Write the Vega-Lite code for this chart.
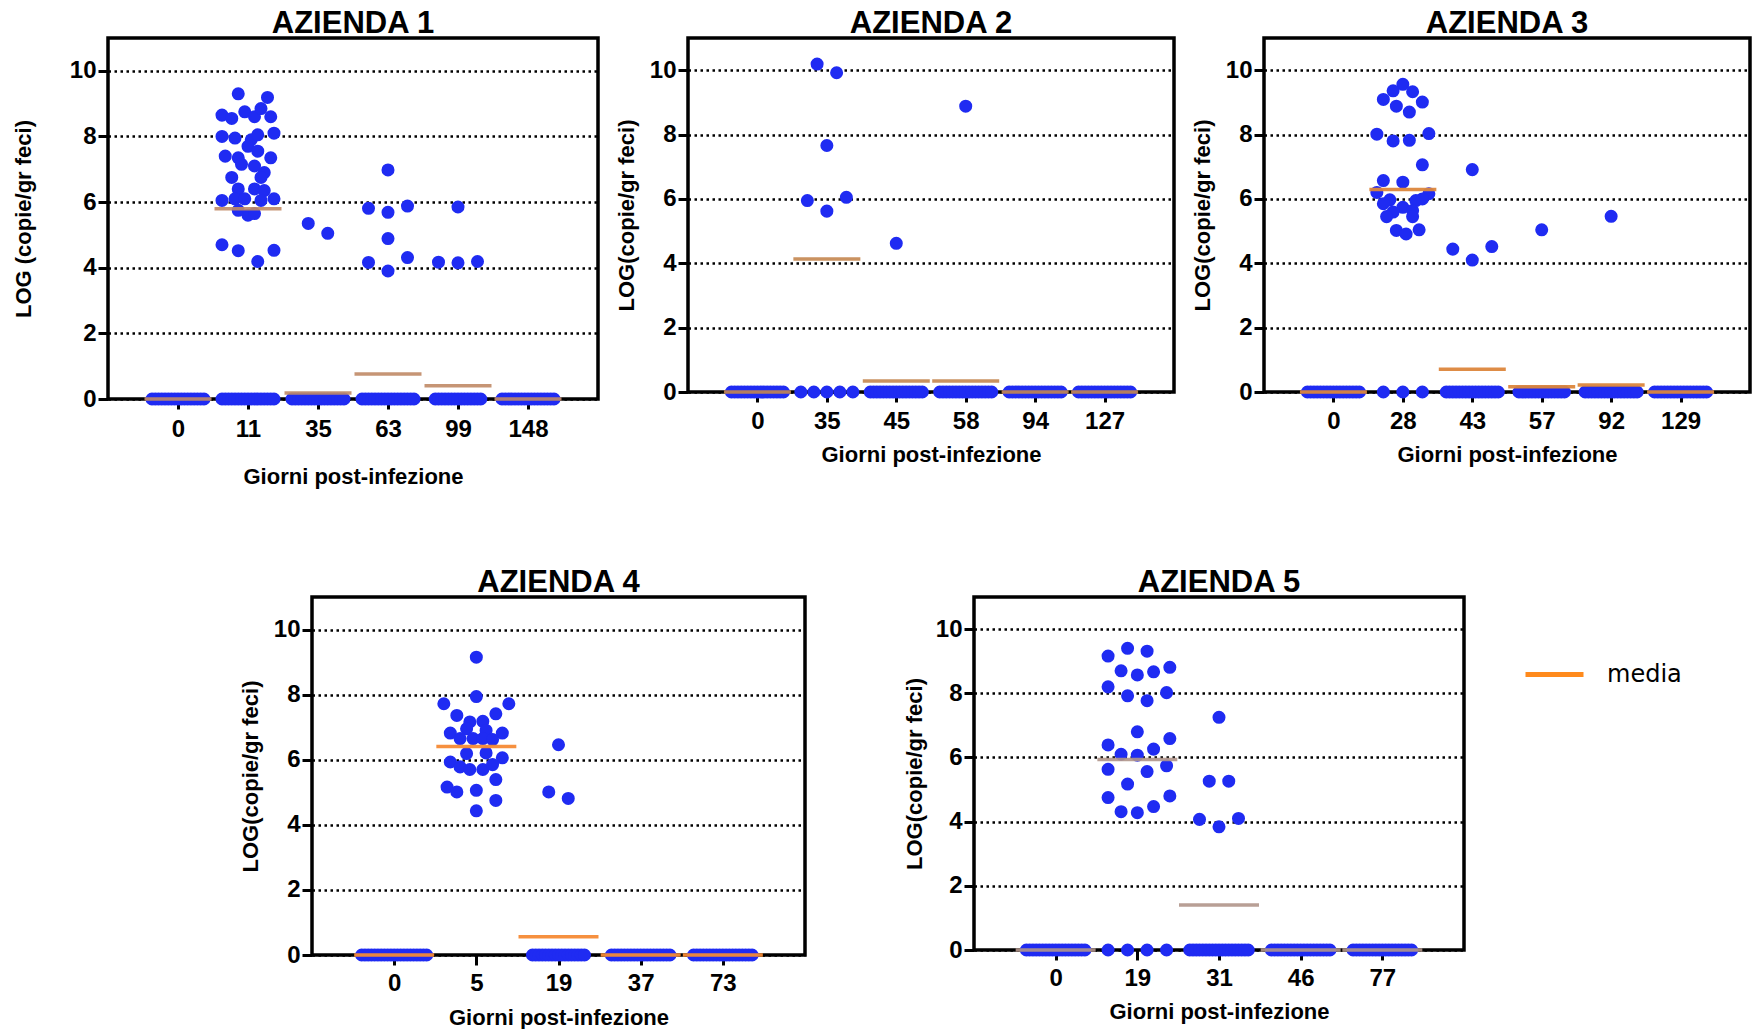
{
  "$schema": "https://vega.github.io/schema/vega-lite/v6.json",
  "padding": {"left": 10, "top": 6, "right": 0, "bottom": 0},
  "background": "white",
  "datasets": {
    "punti": [
      {"a":1,"g":0,"v":0,"j":-4},{"a":1,"g":0,"v":0,"j":-3.5},{"a":1,"g":0,"v":0,"j":-3},{"a":1,"g":0,"v":0,"j":-2.5},{"a":1,"g":0,"v":0,"j":-2},{"a":1,"g":0,"v":0,"j":-1.5},{"a":1,"g":0,"v":0,"j":-1},{"a":1,"g":0,"v":0,"j":-0.5},{"a":1,"g":0,"v":0,"j":0},{"a":1,"g":0,"v":0,"j":0.5},{"a":1,"g":0,"v":0,"j":1},{"a":1,"g":0,"v":0,"j":1.5},{"a":1,"g":0,"v":0,"j":2},{"a":1,"g":0,"v":0,"j":2.5},{"a":1,"g":0,"v":0,"j":3},{"a":1,"g":0,"v":0,"j":3.5},{"a":1,"g":0,"v":0,"j":4},
      {"a":1,"g":11,"v":0,"j":-4},{"a":1,"g":11,"v":0,"j":-3.5},{"a":1,"g":11,"v":0,"j":-3},{"a":1,"g":11,"v":0,"j":-2.5},{"a":1,"g":11,"v":0,"j":-2},{"a":1,"g":11,"v":0,"j":-1.5},{"a":1,"g":11,"v":0,"j":-1},{"a":1,"g":11,"v":0,"j":-0.5},{"a":1,"g":11,"v":0,"j":0},{"a":1,"g":11,"v":0,"j":0.5},{"a":1,"g":11,"v":0,"j":1},{"a":1,"g":11,"v":0,"j":1.5},{"a":1,"g":11,"v":0,"j":2},{"a":1,"g":11,"v":0,"j":2.5},{"a":1,"g":11,"v":0,"j":3},{"a":1,"g":11,"v":0,"j":3.5},{"a":1,"g":11,"v":0,"j":4},
      {"a":1,"g":11,"v":9.30,"j":-1.5},{"a":1,"g":11,"v":9.19,"j":3},
      {"a":1,"g":11,"v":8.65,"j":-4},{"a":1,"g":11,"v":8.55,"j":-2.5},{"a":1,"g":11,"v":8.75,"j":-0.5},{"a":1,"g":11,"v":8.6,"j":1},{"a":1,"g":11,"v":8.85,"j":2},{"a":1,"g":11,"v":8.6,"j":3.5},
      {"a":1,"g":11,"v":8.0,"j":-4},{"a":1,"g":11,"v":7.95,"j":-2},{"a":1,"g":11,"v":7.9,"j":0.5},{"a":1,"g":11,"v":8.05,"j":1.5},{"a":1,"g":11,"v":8.1,"j":4},
      {"a":1,"g":11,"v":7.7,"j":0},{"a":1,"g":11,"v":7.55,"j":1.5},{"a":1,"g":11,"v":7.4,"j":-3.5},{"a":1,"g":11,"v":7.35,"j":-1.5},{"a":1,"g":11,"v":7.35,"j":3.5},
      {"a":1,"g":11,"v":7.15,"j":-1},{"a":1,"g":11,"v":7.1,"j":1},{"a":1,"g":11,"v":6.9,"j":2.5},
      {"a":1,"g":11,"v":6.75,"j":-2.5},{"a":1,"g":11,"v":6.75,"j":2},
      {"a":1,"g":11,"v":6.4,"j":-1.5},{"a":1,"g":11,"v":6.4,"j":1},{"a":1,"g":11,"v":6.35,"j":2.5},
      {"a":1,"g":11,"v":6.05,"j":-4},{"a":1,"g":11,"v":6.1,"j":-2},{"a":1,"g":11,"v":6.1,"j":-0.5},{"a":1,"g":11,"v":6.05,"j":2},{"a":1,"g":11,"v":6.1,"j":4},
      {"a":1,"g":11,"v":5.75,"j":-1.5},{"a":1,"g":11,"v":5.6,"j":0},{"a":1,"g":11,"v":5.65,"j":1},
      {"a":1,"g":11,"v":4.7,"j":-4},{"a":1,"g":11,"v":4.52,"j":-1.5},{"a":1,"g":11,"v":4.19,"j":1.5},{"a":1,"g":11,"v":4.53,"j":4},
      {"a":1,"g":35,"v":0,"j":-4},{"a":1,"g":35,"v":0,"j":-3.5},{"a":1,"g":35,"v":0,"j":-3},{"a":1,"g":35,"v":0,"j":-2.5},{"a":1,"g":35,"v":0,"j":-2},{"a":1,"g":35,"v":0,"j":-1.5},{"a":1,"g":35,"v":0,"j":-1},{"a":1,"g":35,"v":0,"j":-0.5},{"a":1,"g":35,"v":0,"j":0},{"a":1,"g":35,"v":0,"j":0.5},{"a":1,"g":35,"v":0,"j":1},{"a":1,"g":35,"v":0,"j":1.5},{"a":1,"g":35,"v":0,"j":2},{"a":1,"g":35,"v":0,"j":2.5},{"a":1,"g":35,"v":0,"j":3},{"a":1,"g":35,"v":0,"j":3.5},{"a":1,"g":35,"v":0,"j":4},
      {"a":1,"g":35,"v":5.35,"j":-1.5},{"a":1,"g":35,"v":5.05,"j":1.5},
      {"a":1,"g":63,"v":0,"j":-4},{"a":1,"g":63,"v":0,"j":-3.5},{"a":1,"g":63,"v":0,"j":-3},{"a":1,"g":63,"v":0,"j":-2.5},{"a":1,"g":63,"v":0,"j":-2},{"a":1,"g":63,"v":0,"j":-1.5},{"a":1,"g":63,"v":0,"j":-1},{"a":1,"g":63,"v":0,"j":-0.5},{"a":1,"g":63,"v":0,"j":0},{"a":1,"g":63,"v":0,"j":0.5},{"a":1,"g":63,"v":0,"j":1},{"a":1,"g":63,"v":0,"j":1.5},{"a":1,"g":63,"v":0,"j":2},{"a":1,"g":63,"v":0,"j":2.5},{"a":1,"g":63,"v":0,"j":3},{"a":1,"g":63,"v":0,"j":3.5},{"a":1,"g":63,"v":0,"j":4},
      {"a":1,"g":63,"v":6.98,"j":0},{"a":1,"g":63,"v":5.81,"j":-3},{"a":1,"g":63,"v":5.69,"j":0},{"a":1,"g":63,"v":5.88,"j":3},{"a":1,"g":63,"v":4.89,"j":0},{"a":1,"g":63,"v":4.16,"j":-3},{"a":1,"g":63,"v":3.90,"j":0},{"a":1,"g":63,"v":4.31,"j":3},
      {"a":1,"g":99,"v":0,"j":-3.5},{"a":1,"g":99,"v":0,"j":-3},{"a":1,"g":99,"v":0,"j":-2.5},{"a":1,"g":99,"v":0,"j":-2},{"a":1,"g":99,"v":0,"j":-1.5},{"a":1,"g":99,"v":0,"j":-1},{"a":1,"g":99,"v":0,"j":-0.5},{"a":1,"g":99,"v":0,"j":0},{"a":1,"g":99,"v":0,"j":0.5},{"a":1,"g":99,"v":0,"j":1},{"a":1,"g":99,"v":0,"j":1.5},{"a":1,"g":99,"v":0,"j":2},{"a":1,"g":99,"v":0,"j":2.5},{"a":1,"g":99,"v":0,"j":3},{"a":1,"g":99,"v":0,"j":3.5},
      {"a":1,"g":99,"v":5.85,"j":0},{"a":1,"g":99,"v":4.17,"j":-3},{"a":1,"g":99,"v":4.15,"j":0},{"a":1,"g":99,"v":4.19,"j":3},
      {"a":1,"g":148,"v":0,"j":-4},{"a":1,"g":148,"v":0,"j":-3.5},{"a":1,"g":148,"v":0,"j":-3},{"a":1,"g":148,"v":0,"j":-2.5},{"a":1,"g":148,"v":0,"j":-2},{"a":1,"g":148,"v":0,"j":-1.5},{"a":1,"g":148,"v":0,"j":-1},{"a":1,"g":148,"v":0,"j":-0.5},{"a":1,"g":148,"v":0,"j":0},{"a":1,"g":148,"v":0,"j":0.5},{"a":1,"g":148,"v":0,"j":1},{"a":1,"g":148,"v":0,"j":1.5},{"a":1,"g":148,"v":0,"j":2},{"a":1,"g":148,"v":0,"j":2.5},{"a":1,"g":148,"v":0,"j":3},{"a":1,"g":148,"v":0,"j":3.5},{"a":1,"g":148,"v":0,"j":4},

      {"a":2,"g":0,"v":0,"j":-4},{"a":2,"g":0,"v":0,"j":-3.5},{"a":2,"g":0,"v":0,"j":-3},{"a":2,"g":0,"v":0,"j":-2.5},{"a":2,"g":0,"v":0,"j":-2},{"a":2,"g":0,"v":0,"j":-1.5},{"a":2,"g":0,"v":0,"j":-1},{"a":2,"g":0,"v":0,"j":-0.5},{"a":2,"g":0,"v":0,"j":0},{"a":2,"g":0,"v":0,"j":0.5},{"a":2,"g":0,"v":0,"j":1},{"a":2,"g":0,"v":0,"j":1.5},{"a":2,"g":0,"v":0,"j":2},{"a":2,"g":0,"v":0,"j":2.5},{"a":2,"g":0,"v":0,"j":3},{"a":2,"g":0,"v":0,"j":3.5},{"a":2,"g":0,"v":0,"j":4},
      {"a":2,"g":35,"v":0,"j":-4},{"a":2,"g":35,"v":0,"j":-2},{"a":2,"g":35,"v":0,"j":0},{"a":2,"g":35,"v":0,"j":2},{"a":2,"g":35,"v":0,"j":4},
      {"a":2,"g":35,"v":10.19,"j":-1.5},{"a":2,"g":35,"v":9.92,"j":1.5},{"a":2,"g":35,"v":7.66,"j":0},{"a":2,"g":35,"v":5.95,"j":-3},{"a":2,"g":35,"v":6.05,"j":3},{"a":2,"g":35,"v":5.62,"j":0},
      {"a":2,"g":45,"v":0,"j":-4},{"a":2,"g":45,"v":0,"j":-3.5},{"a":2,"g":45,"v":0,"j":-3},{"a":2,"g":45,"v":0,"j":-2.5},{"a":2,"g":45,"v":0,"j":-2},{"a":2,"g":45,"v":0,"j":-1.5},{"a":2,"g":45,"v":0,"j":-1},{"a":2,"g":45,"v":0,"j":-0.5},{"a":2,"g":45,"v":0,"j":0},{"a":2,"g":45,"v":0,"j":0.5},{"a":2,"g":45,"v":0,"j":1},{"a":2,"g":45,"v":0,"j":1.5},{"a":2,"g":45,"v":0,"j":2},{"a":2,"g":45,"v":0,"j":2.5},{"a":2,"g":45,"v":0,"j":3},{"a":2,"g":45,"v":0,"j":3.5},{"a":2,"g":45,"v":0,"j":4},
      {"a":2,"g":45,"v":4.62,"j":0},
      {"a":2,"g":58,"v":0,"j":-4},{"a":2,"g":58,"v":0,"j":-3.5},{"a":2,"g":58,"v":0,"j":-3},{"a":2,"g":58,"v":0,"j":-2.5},{"a":2,"g":58,"v":0,"j":-2},{"a":2,"g":58,"v":0,"j":-1.5},{"a":2,"g":58,"v":0,"j":-1},{"a":2,"g":58,"v":0,"j":-0.5},{"a":2,"g":58,"v":0,"j":0},{"a":2,"g":58,"v":0,"j":0.5},{"a":2,"g":58,"v":0,"j":1},{"a":2,"g":58,"v":0,"j":1.5},{"a":2,"g":58,"v":0,"j":2},{"a":2,"g":58,"v":0,"j":2.5},{"a":2,"g":58,"v":0,"j":3},{"a":2,"g":58,"v":0,"j":3.5},{"a":2,"g":58,"v":0,"j":4},
      {"a":2,"g":58,"v":8.88,"j":0},
      {"a":2,"g":94,"v":0,"j":-4},{"a":2,"g":94,"v":0,"j":-3.5},{"a":2,"g":94,"v":0,"j":-3},{"a":2,"g":94,"v":0,"j":-2.5},{"a":2,"g":94,"v":0,"j":-2},{"a":2,"g":94,"v":0,"j":-1.5},{"a":2,"g":94,"v":0,"j":-1},{"a":2,"g":94,"v":0,"j":-0.5},{"a":2,"g":94,"v":0,"j":0},{"a":2,"g":94,"v":0,"j":0.5},{"a":2,"g":94,"v":0,"j":1},{"a":2,"g":94,"v":0,"j":1.5},{"a":2,"g":94,"v":0,"j":2},{"a":2,"g":94,"v":0,"j":2.5},{"a":2,"g":94,"v":0,"j":3},{"a":2,"g":94,"v":0,"j":3.5},{"a":2,"g":94,"v":0,"j":4},
      {"a":2,"g":127,"v":0,"j":-4},{"a":2,"g":127,"v":0,"j":-3.5},{"a":2,"g":127,"v":0,"j":-3},{"a":2,"g":127,"v":0,"j":-2.5},{"a":2,"g":127,"v":0,"j":-2},{"a":2,"g":127,"v":0,"j":-1.5},{"a":2,"g":127,"v":0,"j":-1},{"a":2,"g":127,"v":0,"j":-0.5},{"a":2,"g":127,"v":0,"j":0},{"a":2,"g":127,"v":0,"j":0.5},{"a":2,"g":127,"v":0,"j":1},{"a":2,"g":127,"v":0,"j":1.5},{"a":2,"g":127,"v":0,"j":2},{"a":2,"g":127,"v":0,"j":2.5},{"a":2,"g":127,"v":0,"j":3},{"a":2,"g":127,"v":0,"j":3.5},{"a":2,"g":127,"v":0,"j":4},

      {"a":3,"g":0,"v":0,"j":-4},{"a":3,"g":0,"v":0,"j":-3.5},{"a":3,"g":0,"v":0,"j":-3},{"a":3,"g":0,"v":0,"j":-2.5},{"a":3,"g":0,"v":0,"j":-2},{"a":3,"g":0,"v":0,"j":-1.5},{"a":3,"g":0,"v":0,"j":-1},{"a":3,"g":0,"v":0,"j":-0.5},{"a":3,"g":0,"v":0,"j":0},{"a":3,"g":0,"v":0,"j":0.5},{"a":3,"g":0,"v":0,"j":1},{"a":3,"g":0,"v":0,"j":1.5},{"a":3,"g":0,"v":0,"j":2},{"a":3,"g":0,"v":0,"j":2.5},{"a":3,"g":0,"v":0,"j":3},{"a":3,"g":0,"v":0,"j":3.5},{"a":3,"g":0,"v":0,"j":4},
      {"a":3,"g":28,"v":0,"j":-3},{"a":3,"g":28,"v":0,"j":0},{"a":3,"g":28,"v":0,"j":3},
      {"a":3,"g":28,"v":9.56,"j":0},{"a":3,"g":28,"v":9.36,"j":-1.5},{"a":3,"g":28,"v":9.33,"j":1.5},{"a":3,"g":28,"v":9.09,"j":-3},{"a":3,"g":28,"v":9.01,"j":3},{"a":3,"g":28,"v":8.88,"j":-1},{"a":3,"g":28,"v":8.70,"j":1},
      {"a":3,"g":28,"v":8.01,"j":-4},{"a":3,"g":28,"v":8.03,"j":4},{"a":3,"g":28,"v":7.80,"j":-1.5},{"a":3,"g":28,"v":7.82,"j":1},{"a":3,"g":28,"v":7.06,"j":3},
      {"a":3,"g":28,"v":6.57,"j":-3},{"a":3,"g":28,"v":6.52,"j":0},
      {"a":3,"g":28,"v":6.2,"j":-4},{"a":3,"g":28,"v":5.97,"j":-2},{"a":3,"g":28,"v":5.74,"j":0},{"a":3,"g":28,"v":5.95,"j":2},{"a":3,"g":28,"v":6.16,"j":4},{"a":3,"g":28,"v":5.59,"j":-1.5},{"a":3,"g":28,"v":5.64,"j":1.5},{"a":3,"g":28,"v":5.85,"j":-3},{"a":3,"g":28,"v":6.0,"j":3},
      {"a":3,"g":28,"v":5.45,"j":-2.5},{"a":3,"g":28,"v":5.45,"j":1.5},{"a":3,"g":28,"v":5.02,"j":-1},{"a":3,"g":28,"v":4.91,"j":0.5},{"a":3,"g":28,"v":5.04,"j":2.5},
      {"a":3,"g":43,"v":0,"j":-4},{"a":3,"g":43,"v":0,"j":-3.5},{"a":3,"g":43,"v":0,"j":-3},{"a":3,"g":43,"v":0,"j":-2.5},{"a":3,"g":43,"v":0,"j":-2},{"a":3,"g":43,"v":0,"j":-1.5},{"a":3,"g":43,"v":0,"j":-1},{"a":3,"g":43,"v":0,"j":-0.5},{"a":3,"g":43,"v":0,"j":0},{"a":3,"g":43,"v":0,"j":0.5},{"a":3,"g":43,"v":0,"j":1},{"a":3,"g":43,"v":0,"j":1.5},{"a":3,"g":43,"v":0,"j":2},{"a":3,"g":43,"v":0,"j":2.5},{"a":3,"g":43,"v":0,"j":3},{"a":3,"g":43,"v":0,"j":3.5},{"a":3,"g":43,"v":0,"j":4},
      {"a":3,"g":43,"v":6.91,"j":0},{"a":3,"g":43,"v":4.44,"j":-3},{"a":3,"g":43,"v":4.10,"j":0},{"a":3,"g":43,"v":4.52,"j":3},
      {"a":3,"g":57,"v":0,"j":-3.5},{"a":3,"g":57,"v":0,"j":-3},{"a":3,"g":57,"v":0,"j":-2.5},{"a":3,"g":57,"v":0,"j":-2},{"a":3,"g":57,"v":0,"j":-1.5},{"a":3,"g":57,"v":0,"j":-1},{"a":3,"g":57,"v":0,"j":-0.5},{"a":3,"g":57,"v":0,"j":0},{"a":3,"g":57,"v":0,"j":0.5},{"a":3,"g":57,"v":0,"j":1},{"a":3,"g":57,"v":0,"j":1.5},{"a":3,"g":57,"v":0,"j":2},{"a":3,"g":57,"v":0,"j":2.5},{"a":3,"g":57,"v":0,"j":3},{"a":3,"g":57,"v":0,"j":3.5},
      {"a":3,"g":57,"v":5.04,"j":0},
      {"a":3,"g":92,"v":0,"j":-4},{"a":3,"g":92,"v":0,"j":-3.5},{"a":3,"g":92,"v":0,"j":-3},{"a":3,"g":92,"v":0,"j":-2.5},{"a":3,"g":92,"v":0,"j":-2},{"a":3,"g":92,"v":0,"j":-1.5},{"a":3,"g":92,"v":0,"j":-1},{"a":3,"g":92,"v":0,"j":-0.5},{"a":3,"g":92,"v":0,"j":0},{"a":3,"g":92,"v":0,"j":0.5},{"a":3,"g":92,"v":0,"j":1},{"a":3,"g":92,"v":0,"j":1.5},{"a":3,"g":92,"v":0,"j":2},{"a":3,"g":92,"v":0,"j":2.5},{"a":3,"g":92,"v":0,"j":3},{"a":3,"g":92,"v":0,"j":3.5},{"a":3,"g":92,"v":0,"j":4},
      {"a":3,"g":92,"v":5.46,"j":0},
      {"a":3,"g":129,"v":0,"j":-4},{"a":3,"g":129,"v":0,"j":-3.5},{"a":3,"g":129,"v":0,"j":-3},{"a":3,"g":129,"v":0,"j":-2.5},{"a":3,"g":129,"v":0,"j":-2},{"a":3,"g":129,"v":0,"j":-1.5},{"a":3,"g":129,"v":0,"j":-1},{"a":3,"g":129,"v":0,"j":-0.5},{"a":3,"g":129,"v":0,"j":0},{"a":3,"g":129,"v":0,"j":0.5},{"a":3,"g":129,"v":0,"j":1},{"a":3,"g":129,"v":0,"j":1.5},{"a":3,"g":129,"v":0,"j":2},{"a":3,"g":129,"v":0,"j":2.5},{"a":3,"g":129,"v":0,"j":3},{"a":3,"g":129,"v":0,"j":3.5},{"a":3,"g":129,"v":0,"j":4},

      {"a":4,"g":0,"v":0,"j":-5},{"a":4,"g":0,"v":0,"j":-4.5},{"a":4,"g":0,"v":0,"j":-4},{"a":4,"g":0,"v":0,"j":-3.5},{"a":4,"g":0,"v":0,"j":-3},{"a":4,"g":0,"v":0,"j":-2.5},{"a":4,"g":0,"v":0,"j":-2},{"a":4,"g":0,"v":0,"j":-1.5},{"a":4,"g":0,"v":0,"j":-1},{"a":4,"g":0,"v":0,"j":-0.5},{"a":4,"g":0,"v":0,"j":0},{"a":4,"g":0,"v":0,"j":0.5},{"a":4,"g":0,"v":0,"j":1},{"a":4,"g":0,"v":0,"j":1.5},{"a":4,"g":0,"v":0,"j":2},{"a":4,"g":0,"v":0,"j":2.5},{"a":4,"g":0,"v":0,"j":3},{"a":4,"g":0,"v":0,"j":3.5},{"a":4,"g":0,"v":0,"j":4},{"a":4,"g":0,"v":0,"j":4.5},{"a":4,"g":0,"v":0,"j":5},
      {"a":4,"g":5,"v":9.15,"j":0},{"a":4,"g":5,"v":7.94,"j":0},{"a":4,"g":5,"v":7.72,"j":-5},{"a":4,"g":5,"v":7.72,"j":5},{"a":4,"g":5,"v":7.36,"j":-3},{"a":4,"g":5,"v":7.41,"j":3},
      {"a":4,"g":5,"v":7.16,"j":-1},{"a":4,"g":5,"v":7.18,"j":1},{"a":4,"g":5,"v":6.95,"j":-1.5},{"a":4,"g":5,"v":6.90,"j":1.5},{"a":4,"g":5,"v":6.82,"j":-4},{"a":4,"g":5,"v":6.82,"j":4},
      {"a":4,"g":5,"v":6.65,"j":-2.5},{"a":4,"g":5,"v":6.65,"j":-0.5},{"a":4,"g":5,"v":6.65,"j":1},{"a":4,"g":5,"v":6.62,"j":2.5},{"a":4,"g":5,"v":6.19,"j":-1.5},{"a":4,"g":5,"v":6.21,"j":1.5},
      {"a":4,"g":5,"v":5.93,"j":-4},{"a":4,"g":5,"v":6.06,"j":4},{"a":4,"g":5,"v":5.78,"j":-2.5},{"a":4,"g":5,"v":5.70,"j":-1},{"a":4,"g":5,"v":5.70,"j":1},{"a":4,"g":5,"v":5.85,"j":2.5},
      {"a":4,"g":5,"v":5.39,"j":3},{"a":4,"g":5,"v":5.16,"j":-4.5},{"a":4,"g":5,"v":5.01,"j":-3},{"a":4,"g":5,"v":5.06,"j":0},{"a":4,"g":5,"v":4.75,"j":3},{"a":4,"g":5,"v":4.43,"j":0},
      {"a":4,"g":19,"v":0,"j":-4},{"a":4,"g":19,"v":0,"j":-3.5},{"a":4,"g":19,"v":0,"j":-3},{"a":4,"g":19,"v":0,"j":-2.5},{"a":4,"g":19,"v":0,"j":-2},{"a":4,"g":19,"v":0,"j":-1.5},{"a":4,"g":19,"v":0,"j":-1},{"a":4,"g":19,"v":0,"j":-0.5},{"a":4,"g":19,"v":0,"j":0},{"a":4,"g":19,"v":0,"j":0.5},{"a":4,"g":19,"v":0,"j":1},{"a":4,"g":19,"v":0,"j":1.5},{"a":4,"g":19,"v":0,"j":2},{"a":4,"g":19,"v":0,"j":2.5},{"a":4,"g":19,"v":0,"j":3},{"a":4,"g":19,"v":0,"j":3.5},{"a":4,"g":19,"v":0,"j":4},
      {"a":4,"g":19,"v":6.46,"j":0},{"a":4,"g":19,"v":5.01,"j":-1.5},{"a":4,"g":19,"v":4.81,"j":1.5},
      {"a":4,"g":37,"v":0,"j":-4.5},{"a":4,"g":37,"v":0,"j":-4},{"a":4,"g":37,"v":0,"j":-3.5},{"a":4,"g":37,"v":0,"j":-3},{"a":4,"g":37,"v":0,"j":-2.5},{"a":4,"g":37,"v":0,"j":-2},{"a":4,"g":37,"v":0,"j":-1.5},{"a":4,"g":37,"v":0,"j":-1},{"a":4,"g":37,"v":0,"j":-0.5},{"a":4,"g":37,"v":0,"j":0},{"a":4,"g":37,"v":0,"j":0.5},{"a":4,"g":37,"v":0,"j":1},{"a":4,"g":37,"v":0,"j":1.5},{"a":4,"g":37,"v":0,"j":2},{"a":4,"g":37,"v":0,"j":2.5},{"a":4,"g":37,"v":0,"j":3},{"a":4,"g":37,"v":0,"j":3.5},{"a":4,"g":37,"v":0,"j":4},{"a":4,"g":37,"v":0,"j":4.5},
      {"a":4,"g":73,"v":0,"j":-4.5},{"a":4,"g":73,"v":0,"j":-4},{"a":4,"g":73,"v":0,"j":-3.5},{"a":4,"g":73,"v":0,"j":-3},{"a":4,"g":73,"v":0,"j":-2.5},{"a":4,"g":73,"v":0,"j":-2},{"a":4,"g":73,"v":0,"j":-1.5},{"a":4,"g":73,"v":0,"j":-1},{"a":4,"g":73,"v":0,"j":-0.5},{"a":4,"g":73,"v":0,"j":0},{"a":4,"g":73,"v":0,"j":0.5},{"a":4,"g":73,"v":0,"j":1},{"a":4,"g":73,"v":0,"j":1.5},{"a":4,"g":73,"v":0,"j":2},{"a":4,"g":73,"v":0,"j":2.5},{"a":4,"g":73,"v":0,"j":3},{"a":4,"g":73,"v":0,"j":3.5},{"a":4,"g":73,"v":0,"j":4},{"a":4,"g":73,"v":0,"j":4.5},

      {"a":5,"g":0,"v":0,"j":-4.5},{"a":5,"g":0,"v":0,"j":-4},{"a":5,"g":0,"v":0,"j":-3.5},{"a":5,"g":0,"v":0,"j":-3},{"a":5,"g":0,"v":0,"j":-2.5},{"a":5,"g":0,"v":0,"j":-2},{"a":5,"g":0,"v":0,"j":-1.5},{"a":5,"g":0,"v":0,"j":-1},{"a":5,"g":0,"v":0,"j":-0.5},{"a":5,"g":0,"v":0,"j":0},{"a":5,"g":0,"v":0,"j":0.5},{"a":5,"g":0,"v":0,"j":1},{"a":5,"g":0,"v":0,"j":1.5},{"a":5,"g":0,"v":0,"j":2},{"a":5,"g":0,"v":0,"j":2.5},{"a":5,"g":0,"v":0,"j":3},{"a":5,"g":0,"v":0,"j":3.5},{"a":5,"g":0,"v":0,"j":4},{"a":5,"g":0,"v":0,"j":4.5},
      {"a":5,"g":19,"v":0,"j":-4.5},{"a":5,"g":19,"v":0,"j":-1.5},{"a":5,"g":19,"v":0,"j":1.5},{"a":5,"g":19,"v":0,"j":4.5},
      {"a":5,"g":19,"v":9.16,"j":-4.5},{"a":5,"g":19,"v":9.40,"j":-1.5},{"a":5,"g":19,"v":9.31,"j":1.5},{"a":5,"g":19,"v":8.70,"j":-2.5},{"a":5,"g":19,"v":8.57,"j":0},{"a":5,"g":19,"v":8.67,"j":2.5},{"a":5,"g":19,"v":8.81,"j":5},
      {"a":5,"g":19,"v":8.20,"j":-4.5},{"a":5,"g":19,"v":7.92,"j":-1.5},{"a":5,"g":19,"v":7.77,"j":1.5},{"a":5,"g":19,"v":8.02,"j":4.5},
      {"a":5,"g":19,"v":6.80,"j":0},{"a":5,"g":19,"v":6.39,"j":-4.5},{"a":5,"g":19,"v":6.59,"j":5},{"a":5,"g":19,"v":6.10,"j":-2.5},{"a":5,"g":19,"v":6.07,"j":0},{"a":5,"g":19,"v":6.26,"j":2.5},
      {"a":5,"g":19,"v":5.63,"j":-4.5},{"a":5,"g":19,"v":5.56,"j":1.5},{"a":5,"g":19,"v":5.74,"j":4.5},{"a":5,"g":19,"v":5.17,"j":-1.5},
      {"a":5,"g":19,"v":4.75,"j":-4.5},{"a":5,"g":19,"v":4.80,"j":5},{"a":5,"g":19,"v":4.31,"j":-2.5},{"a":5,"g":19,"v":4.28,"j":0},{"a":5,"g":19,"v":4.47,"j":2.5},
      {"a":5,"g":31,"v":0,"j":-4.5},{"a":5,"g":31,"v":0,"j":-4},{"a":5,"g":31,"v":0,"j":-3.5},{"a":5,"g":31,"v":0,"j":-3},{"a":5,"g":31,"v":0,"j":-2.5},{"a":5,"g":31,"v":0,"j":-2},{"a":5,"g":31,"v":0,"j":-1.5},{"a":5,"g":31,"v":0,"j":-1},{"a":5,"g":31,"v":0,"j":-0.5},{"a":5,"g":31,"v":0,"j":0},{"a":5,"g":31,"v":0,"j":0.5},{"a":5,"g":31,"v":0,"j":1},{"a":5,"g":31,"v":0,"j":1.5},{"a":5,"g":31,"v":0,"j":2},{"a":5,"g":31,"v":0,"j":2.5},{"a":5,"g":31,"v":0,"j":3},{"a":5,"g":31,"v":0,"j":3.5},{"a":5,"g":31,"v":0,"j":4},{"a":5,"g":31,"v":0,"j":4.5},
      {"a":5,"g":31,"v":7.25,"j":0},{"a":5,"g":31,"v":5.26,"j":-1.5},{"a":5,"g":31,"v":5.26,"j":1.5},{"a":5,"g":31,"v":4.07,"j":-3},{"a":5,"g":31,"v":3.84,"j":0},{"a":5,"g":31,"v":4.10,"j":3},
      {"a":5,"g":46,"v":0,"j":-4.5},{"a":5,"g":46,"v":0,"j":-4},{"a":5,"g":46,"v":0,"j":-3.5},{"a":5,"g":46,"v":0,"j":-3},{"a":5,"g":46,"v":0,"j":-2.5},{"a":5,"g":46,"v":0,"j":-2},{"a":5,"g":46,"v":0,"j":-1.5},{"a":5,"g":46,"v":0,"j":-1},{"a":5,"g":46,"v":0,"j":-0.5},{"a":5,"g":46,"v":0,"j":0},{"a":5,"g":46,"v":0,"j":0.5},{"a":5,"g":46,"v":0,"j":1},{"a":5,"g":46,"v":0,"j":1.5},{"a":5,"g":46,"v":0,"j":2},{"a":5,"g":46,"v":0,"j":2.5},{"a":5,"g":46,"v":0,"j":3},{"a":5,"g":46,"v":0,"j":3.5},{"a":5,"g":46,"v":0,"j":4},{"a":5,"g":46,"v":0,"j":4.5},
      {"a":5,"g":77,"v":0,"j":-4.5},{"a":5,"g":77,"v":0,"j":-4},{"a":5,"g":77,"v":0,"j":-3.5},{"a":5,"g":77,"v":0,"j":-3},{"a":5,"g":77,"v":0,"j":-2.5},{"a":5,"g":77,"v":0,"j":-2},{"a":5,"g":77,"v":0,"j":-1.5},{"a":5,"g":77,"v":0,"j":-1},{"a":5,"g":77,"v":0,"j":-0.5},{"a":5,"g":77,"v":0,"j":0},{"a":5,"g":77,"v":0,"j":0.5},{"a":5,"g":77,"v":0,"j":1},{"a":5,"g":77,"v":0,"j":1.5},{"a":5,"g":77,"v":0,"j":2},{"a":5,"g":77,"v":0,"j":2.5},{"a":5,"g":77,"v":0,"j":3},{"a":5,"g":77,"v":0,"j":3.5},{"a":5,"g":77,"v":0,"j":4},{"a":5,"g":77,"v":0,"j":4.5}
    ],
    "medie": [
      {"a":1,"g":0,"m":0},{"a":1,"g":11,"m":5.8},{"a":1,"g":35,"m":0.18},{"a":1,"g":63,"m":0.76},{"a":1,"g":99,"m":0.40},{"a":1,"g":148,"m":0},
      {"a":2,"g":0,"m":0},{"a":2,"g":35,"m":4.13},{"a":2,"g":45,"m":0.34},{"a":2,"g":58,"m":0.34},{"a":2,"g":94,"m":0},{"a":2,"g":127,"m":0},
      {"a":3,"g":0,"m":0},{"a":3,"g":28,"m":6.29},{"a":3,"g":43,"m":0.71},{"a":3,"g":57,"m":0.16},{"a":3,"g":92,"m":0.22},{"a":3,"g":129,"m":0},
      {"a":4,"g":0,"m":0},{"a":4,"g":5,"m":6.41},{"a":4,"g":19,"m":0.56},{"a":4,"g":37,"m":0},{"a":4,"g":73,"m":0},
      {"a":5,"g":0,"m":0},{"a":5,"g":19,"m":5.94},{"a":5,"g":31,"m":1.40},{"a":5,"g":46,"m":0},{"a":5,"g":77,"m":0}
    ]
  },
  "spacing": 76,
  "vconcat": [
    {
      "bounds": "flush",
      "spacing": 90,
      "hconcat": [
        {
          "width": 490, "height": 361, "title": "AZIENDA 1",
          "layer": [
            {"data": {"name": "punti"}, "transform": [{"filter": "datum.a == 1"}],
             "mark": {"type": "circle", "size": 170, "color": "#1F2BF2", "opacity": 1},
             "encoding": {
               "x": {"field": "g", "type": "ordinal", "scale": {"type": "point", "padding": 1, "domain": [0,11,35,63,99,148]}, "axis": {"title": "Giorni post-infezione", "labelPadding": 8, "titlePadding": 25}},
               "xOffset": {"field": "j", "type": "quantitative", "scale": {"domain": [-6,6], "range": [-39,39]}},
               "y": {"field": "v", "type": "quantitative", "scale": {"domain": [0,11], "nice": false}, "axis": {"title": "LOG (copie/gr feci)", "titlePadding": 34, "values": [0,2,4,6,8,10]}}
             }},
            {"data": {"name": "medie"}, "transform": [{"filter": "datum.a == 1"}],
             "mark": {"type": "tick", "orient": "horizontal", "size": 67, "thickness": 3.5, "color": "#C08A66", "opacity": 0.9},
             "encoding": {"x": {"field": "g", "type": "ordinal"}, "y": {"field": "m", "type": "quantitative"}}}
          ]
        },
        {
          "width": 486, "height": 354, "title": "AZIENDA 2",
          "layer": [
            {"data": {"name": "punti"}, "transform": [{"filter": "datum.a == 2"}],
             "mark": {"type": "circle", "size": 170, "color": "#1F2BF2", "opacity": 1},
             "encoding": {
               "x": {"field": "g", "type": "ordinal", "scale": {"type": "point", "padding": 1, "domain": [0,35,45,58,94,127]}, "axis": {"title": "Giorni post-infezione", "labelPadding": 7.5, "titlePadding": 11}},
               "xOffset": {"field": "j", "type": "quantitative", "scale": {"domain": [-6,6], "range": [-39,39]}},
               "y": {"field": "v", "type": "quantitative", "scale": {"domain": [0,11], "nice": false}, "axis": {"title": "LOG(copie/gr feci)", "titlePadding": 11, "values": [0,2,4,6,8,10]}}
             }},
            {"data": {"name": "medie"}, "transform": [{"filter": "datum.a == 2"}],
             "mark": {"type": "tick", "orient": "horizontal", "size": 67, "thickness": 3.5, "color": "#C4864F", "opacity": 0.9},
             "encoding": {"x": {"field": "g", "type": "ordinal"}, "y": {"field": "m", "type": "quantitative"}}}
          ]
        },
        {
          "width": 486, "height": 354, "title": "AZIENDA 3",
          "layer": [
            {"data": {"name": "punti"}, "transform": [{"filter": "datum.a == 3"}],
             "mark": {"type": "circle", "size": 170, "color": "#1F2BF2", "opacity": 1},
             "encoding": {
               "x": {"field": "g", "type": "ordinal", "scale": {"type": "point", "padding": 1, "domain": [0,28,43,57,92,129]}, "axis": {"title": "Giorni post-infezione", "labelPadding": 7.5, "titlePadding": 11}},
               "xOffset": {"field": "j", "type": "quantitative", "scale": {"domain": [-6,6], "range": [-39,39]}},
               "y": {"field": "v", "type": "quantitative", "scale": {"domain": [0,11], "nice": false}, "axis": {"title": "LOG(copie/gr feci)", "titlePadding": 11, "values": [0,2,4,6,8,10]}}
             }},
            {"data": {"name": "medie"}, "transform": [{"filter": "datum.a == 3"}],
             "mark": {"type": "tick", "orient": "horizontal", "size": 67, "thickness": 3.5, "color": "#DC863C", "opacity": 0.95},
             "encoding": {"x": {"field": "g", "type": "ordinal"}, "y": {"field": "m", "type": "quantitative"}}}
          ]
        }
      ]
    },
    {
      "bounds": "flush",
      "spacing": 169,
      "hconcat": [
        {"width": 35, "height": 10, "view": {"stroke": null, "fill": "white"}, "data": {"values": []}, "mark": {"type": "point"}, "encoding": {}},
        {
          "width": 493, "height": 358, "title": "AZIENDA 4",
          "layer": [
            {"data": {"name": "punti"}, "transform": [{"filter": "datum.a == 4"}],
             "mark": {"type": "circle", "size": 170, "color": "#1F2BF2", "opacity": 1},
             "encoding": {
               "x": {"field": "g", "type": "ordinal", "scale": {"type": "point", "padding": 1, "domain": [0,5,19,37,73]}, "axis": {"title": "Giorni post-infezione", "labelPadding": 6.5, "titlePadding": 11.5}},
               "xOffset": {"field": "j", "type": "quantitative", "scale": {"domain": [-6,6], "range": [-39,39]}},
               "y": {"field": "v", "type": "quantitative", "scale": {"domain": [0,11], "nice": false}, "axis": {"title": "LOG(copie/gr feci)", "titlePadding": 11, "values": [0,2,4,6,8,10]}}
             }},
            {"data": {"name": "medie"}, "transform": [{"filter": "datum.a == 4"}],
             "mark": {"type": "tick", "orient": "horizontal", "size": 80, "thickness": 3.5, "color": "#F58A35", "opacity": 0.95},
             "encoding": {"x": {"field": "g", "type": "ordinal"}, "y": {"field": "m", "type": "quantitative"}}}
          ]
        },
        {
          "width": 490, "height": 353, "title": "AZIENDA 5",
          "layer": [
            {"data": {"name": "punti"}, "transform": [{"filter": "datum.a == 5"}],
             "mark": {"type": "circle", "size": 170, "color": "#1F2BF2", "opacity": 1},
             "encoding": {
               "x": {"field": "g", "type": "ordinal", "scale": {"type": "point", "padding": 1, "domain": [0,19,31,46,77]}, "axis": {"title": "Giorni post-infezione", "labelPadding": 6.5, "titlePadding": 11}},
               "xOffset": {"field": "j", "type": "quantitative", "scale": {"domain": [-6,6], "range": [-39,39]}},
               "y": {"field": "v", "type": "quantitative", "scale": {"domain": [0,11], "nice": false}, "axis": {"title": "LOG(copie/gr feci)", "titlePadding": 9, "values": [0,2,4,6,8,10]}}
             }},
            {"data": {"name": "medie"}, "transform": [{"filter": "datum.a == 5"}],
             "mark": {"type": "tick", "orient": "horizontal", "size": 80, "thickness": 3.5, "color": "#B0958A", "opacity": 0.9},
             "encoding": {"x": {"field": "g", "type": "ordinal"}, "y": {"field": "m", "type": "quantitative"}}},
            {"data": {"name": "medie"}, "transform": [{"filter": "datum.a == 99"}],
             "mark": {"type": "line", "strokeWidth": 5},
             "encoding": {"x": {"field": "g", "type": "ordinal"}, "y": {"field": "m", "type": "quantitative"},
               "color": {"datum": "media", "scale": {"range": ["#FF8A1C"]},
                 "legend": {"title": null, "orient": "none", "legendX": 1415, "legendY": 605, "symbolType": "stroke", "symbolSize": 3364, "symbolStrokeWidth": 5, "symbolOpacity": 1, "labelFontSize": 24, "labelFont": "DejaVu Sans", "labelFontWeight": "normal", "labelOffset": 21, "labelColor": "black"}}}}
          ]
        }
      ]
    }
  ],
  "config": {
    "view": {"stroke": "black", "strokeWidth": 3.5},
    "font": "Liberation Sans",
    "title": {"font": "Liberation Sans", "fontSize": 31, "fontWeight": "bold", "color": "black", "baseline": "alphabetic", "offset": -2, "anchor": "middle"},
    "axis": {"labelFont": "Liberation Sans", "labelFontSize": 24, "labelFontWeight": "bold", "labelColor": "black", "titleFont": "Liberation Sans", "titleFontWeight": "bold", "titleColor": "black", "tickColor": "black", "tickWidth": 3, "tickSize": 10, "domain": false, "labelFlush": false},
    "axisY": {"grid": true, "gridColor": "black", "gridDash": [2.5, 3.5], "gridWidth": 2.5, "titleFontSize": 22, "labelPadding": 2},
    "axisX": {"grid": false, "labelAngle": 0, "titleFontSize": 22}
  }
}
